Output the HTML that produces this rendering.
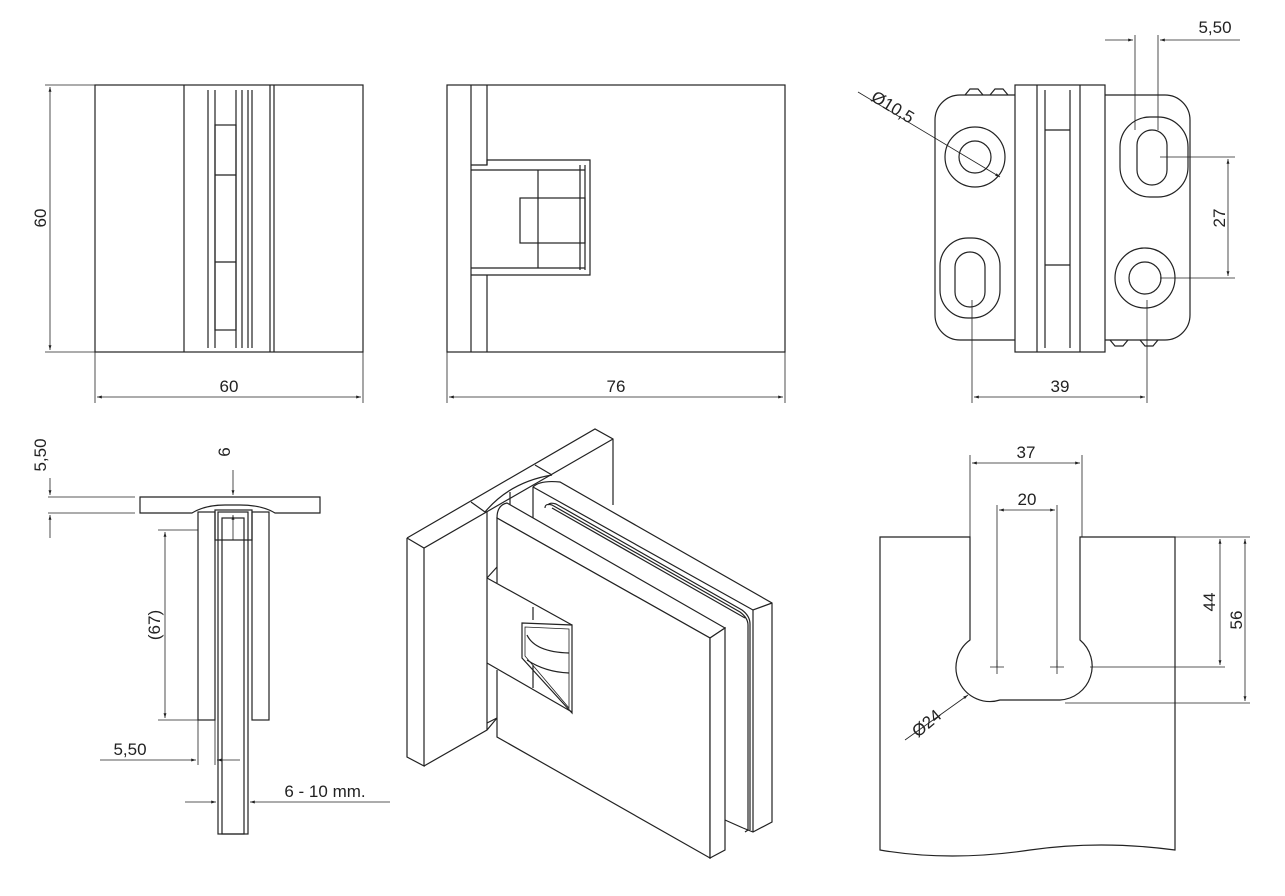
<!DOCTYPE html>
<html><head><meta charset="utf-8"><style>
html,body{margin:0;padding:0;background:#fff;}
svg{display:block;}
text{font-family:"Liberation Sans",sans-serif;font-size:17px;fill:#222;}
</style></head><body>
<svg width="1285" height="896" viewBox="0 0 1285 896" xmlns="http://www.w3.org/2000/svg">
<defs>
<marker id="a" viewBox="0 0 10 10" refX="10" refY="5" markerWidth="10" markerHeight="6" orient="auto-start-reverse"><path d="M0,2 L10,5 L0,8 z" fill="#222"/></marker>
</defs>
<g fill="none" stroke="#222" stroke-width="1.2">
<!-- TOP LEFT -->
<rect x="95" y="85" width="268" height="267"/>
<line x1="184" y1="85" x2="184" y2="352"/>
<line x1="208" y1="90" x2="208" y2="348"/>
<line x1="215" y1="90" x2="215" y2="348"/>
<line x1="236" y1="90" x2="236" y2="348"/>
<line x1="242" y1="90" x2="242" y2="348"/>
<line x1="248" y1="90" x2="248" y2="348"/>
<line x1="252" y1="90" x2="252" y2="348"/>
<line x1="270" y1="85" x2="270" y2="352"/>
<line x1="274" y1="85" x2="274" y2="352"/>
<rect x="215" y="125" width="21" height="205"/>
<line x1="215" y1="175" x2="236" y2="175"/><line x1="215" y1="262" x2="236" y2="262"/>
<line x1="45" y1="85" x2="95" y2="85" stroke-width="0.8"/>
<line x1="45" y1="352" x2="95" y2="352" stroke-width="0.8"/>
<line x1="50" y1="87" x2="50" y2="350" stroke-width="0.8" marker-start="url(#a)" marker-end="url(#a)"/>
<line x1="95" y1="352" x2="95" y2="403" stroke-width="0.8"/>
<line x1="363" y1="352" x2="363" y2="403" stroke-width="0.8"/>
<line x1="97" y1="397" x2="361" y2="397" stroke-width="0.8" marker-start="url(#a)" marker-end="url(#a)"/>
<!-- TOP MIDDLE -->
<rect x="447" y="85" width="338" height="267"/>
<line x1="471" y1="85" x2="471" y2="352"/>
<line x1="487" y1="85" x2="487" y2="165"/>
<line x1="487" y1="275" x2="487" y2="352"/>
<path d="M471,165 L487,165 L487,160 L590,160 L590,275 L487,275 L471,275"/>
<line x1="471" y1="170" x2="585" y2="170"/>
<line x1="471" y1="268" x2="585" y2="268"/>
<line x1="538" y1="170" x2="538" y2="268"/>
<line x1="580" y1="165" x2="580" y2="270"/>
<line x1="585" y1="165" x2="585" y2="270"/>
<rect x="520" y="198" width="65" height="45"/>
<line x1="447" y1="352" x2="447" y2="403" stroke-width="0.8"/>
<line x1="785" y1="352" x2="785" y2="403" stroke-width="0.8"/>
<line x1="449" y1="397" x2="783" y2="397" stroke-width="0.8" marker-start="url(#a)" marker-end="url(#a)"/>
<!-- TOP RIGHT -->
<rect x="935" y="95" width="255" height="245" rx="25"/>
<rect x="1015" y="85" width="90" height="267" fill="#fff"/>
<line x1="1037" y1="85" x2="1037" y2="352"/><line x1="1045" y1="90" x2="1045" y2="348"/>
<line x1="1070" y1="90" x2="1070" y2="348"/><line x1="1080" y1="85" x2="1080" y2="352"/>
<line x1="1045" y1="130" x2="1070" y2="130"/><line x1="1045" y1="265" x2="1070" y2="265"/>
<circle cx="975" cy="157" r="30"/><circle cx="975" cy="157" r="16"/>
<circle cx="1145" cy="278" r="30"/><circle cx="1145" cy="278" r="16"/>
<rect x="1120" y="117" width="68" height="80" rx="30"/><rect x="1137" y="130" width="30" height="55" rx="15"/>
<rect x="940" y="238" width="60" height="80" rx="28"/><rect x="955" y="252" width="30" height="55" rx="15"/>
<path d="M965,95 l5,-6 h8 l5,6 M990,95 l5,-6 h8 l5,6"/>
<path d="M1110,340 l5,6 h8 l5,-6 M1140,340 l5,6 h8 l5,-6"/>
<line x1="858" y1="92" x2="1000" y2="177" stroke-width="0.8" marker-end="url(#a)"/>
<line x1="1135" y1="35" x2="1135" y2="130" stroke-width="0.8"/>
<line x1="1158" y1="35" x2="1158" y2="130" stroke-width="0.8"/>
<line x1="1105" y1="40" x2="1133" y2="40" stroke-width="0.8" marker-end="url(#a)"/>
<line x1="1240" y1="40" x2="1160" y2="40" stroke-width="0.8" marker-end="url(#a)"/>
<line x1="1160" y1="157" x2="1235" y2="157" stroke-width="0.8"/>
<line x1="1160" y1="278" x2="1235" y2="278" stroke-width="0.8"/>
<line x1="1228" y1="159" x2="1228" y2="276" stroke-width="0.8" marker-start="url(#a)" marker-end="url(#a)"/>
<line x1="972" y1="300" x2="972" y2="403" stroke-width="0.8"/>
<line x1="1147" y1="300" x2="1147" y2="403" stroke-width="0.8"/>
<line x1="974" y1="397" x2="1145" y2="397" stroke-width="0.8" marker-start="url(#a)" marker-end="url(#a)"/>
<!-- BOTTOM LEFT -->
<path d="M140,497 H320 V513 H275 Q262,505 240,505 H225 Q205,505 192,513 H140 Z"/>
<rect x="198" y="512" width="17" height="208"/>
<rect x="252" y="512" width="17" height="208"/>
<rect x="215" y="510" width="37" height="30"/>
<rect x="218" y="512" width="30" height="322"/>
<rect x="222" y="518" width="22" height="316"/>
<line x1="48" y1="497" x2="135" y2="497" stroke-width="0.8"/>
<line x1="48" y1="513" x2="135" y2="513" stroke-width="0.8"/>
<line x1="50" y1="478" x2="50" y2="495" stroke-width="0.8" marker-end="url(#a)"/>
<line x1="50" y1="538" x2="50" y2="515" stroke-width="0.8" marker-end="url(#a)"/>
<line x1="233" y1="470" x2="233" y2="495" stroke-width="0.8" marker-end="url(#a)"/>
<line x1="233" y1="540" x2="233" y2="515" stroke-width="0.8" marker-end="url(#a)"/>
<line x1="158" y1="530" x2="198" y2="530" stroke-width="0.8"/>
<line x1="158" y1="720" x2="198" y2="720" stroke-width="0.8"/>
<line x1="165" y1="532" x2="165" y2="718" stroke-width="0.8" marker-start="url(#a)" marker-end="url(#a)"/>
<line x1="198" y1="720" x2="198" y2="765" stroke-width="0.8"/>
<line x1="215" y1="720" x2="215" y2="765" stroke-width="0.8"/>
<line x1="100" y1="760" x2="196" y2="760" stroke-width="0.8" marker-end="url(#a)"/>
<line x1="240" y1="760" x2="217" y2="760" stroke-width="0.8" marker-end="url(#a)"/>
<line x1="185" y1="802" x2="216" y2="802" stroke-width="0.8" marker-end="url(#a)"/>
<line x1="390" y1="802" x2="250" y2="802" stroke-width="0.8" marker-end="url(#a)"/>
<!-- ISOMETRIC -->
<path d="M407,538 L595,429 L613,439 L613,505"/>
<path d="M407,538 L424,548 L613,439"/>
<path d="M407,538 L407,757 L424,766 L424,548"/>
<path d="M424,766 L487,730 L497,718"/>
<line x1="471" y1="502" x2="485" y2="512"/>
<line x1="535" y1="465" x2="552" y2="475"/>
<path d="M485,512 Q510,482 552,475"/>
<line x1="487" y1="512" x2="487" y2="730"/>
<line x1="510" y1="492" x2="510" y2="510"/>
<path d="M533,518 L533,487 Q540,480 560,482 L772,603 L772,822 L753,832 L743,828"/>
<path d="M533,487 L753,610 L772,603"/>
<line x1="753" y1="610" x2="753" y2="832"/>
<path d="M545,508 Q545,503 552,505 L740,612 Q748,618 748,625 L748,830 L745,832"/>
<path d="M548,505 Q550,502 556,504 L742,610 Q750,616 750,624 L750,830"/>
<line x1="552" y1="508" x2="745" y2="618"/>
<!-- front plate -->
<path d="M497,518 Q497,505 507,503 L725,628 L710,638 L497,518 Z" fill="#fff"/>
<path d="M497,518 L710,638 L710,858 L497,737 Z" fill="#fff" stroke="none"/>
<path d="M497,583 L497,518 L710,638 L710,858 L497,737 L497,670"/>
<path d="M710,638 L725,628 L725,850 L710,858 Z" fill="#fff"/>
<line x1="725" y1="820" x2="743" y2="828"/>
<!-- hinge band -->
<path d="M487,578 L497,567"/>
<path d="M487,578 L572,625"/>
<path d="M487,663 L572,712"/>
<path d="M487,723 L497,718"/>
<path d="M522,623 L572,625 L572,713 L522,658 Z"/>
<path d="M525,627 L569,629 L569,708 L525,656 Z" stroke-width="0.8"/>
<path d="M527,635 Q535,652 569,653 M527,660 Q545,672 569,673"/>
<path d="M533,607 L533,620 M533,665 L533,688"/>
<!-- BOTTOM RIGHT -->
<path d="M880,537 H970 V640 A34,34 0 0 0 1000,700 H1060 A34,34 0 0 0 1080,640 V537 H1175 V850 Q1100,840 1030,850 Q950,862 880,850 Z"/>
<line x1="970" y1="537" x2="970" y2="455" stroke-width="0.8"/>
<line x1="1082" y1="537" x2="1082" y2="455" stroke-width="0.8"/>
<line x1="972" y1="463" x2="1080" y2="463" stroke-width="0.8" marker-start="url(#a)" marker-end="url(#a)"/>
<line x1="997" y1="667" x2="997" y2="505" stroke-width="0.8"/>
<line x1="1057" y1="667" x2="1057" y2="505" stroke-width="0.8"/>
<line x1="999" y1="510" x2="1055" y2="510" stroke-width="0.8" marker-start="url(#a)" marker-end="url(#a)"/>
<path d="M990,667 h14 M997,660 v14 M1050,667 h14 M1057,660 v14" stroke-width="0.8"/>
<line x1="1175" y1="537" x2="1250" y2="537" stroke-width="0.8"/>
<line x1="1090" y1="667" x2="1225" y2="667" stroke-width="0.8"/>
<line x1="1065" y1="703" x2="1250" y2="703" stroke-width="0.8"/>
<line x1="1220" y1="539" x2="1220" y2="665" stroke-width="0.8" marker-start="url(#a)" marker-end="url(#a)"/>
<line x1="1245" y1="539" x2="1245" y2="701" stroke-width="0.8" marker-start="url(#a)" marker-end="url(#a)"/>
<line x1="905" y1="740" x2="968" y2="695" stroke-width="0.8" marker-end="url(#a)"/>
</g>
<text x="229" y="392" text-anchor="middle">60</text>
<text x="46" y="218" text-anchor="middle" transform="rotate(-90 46 218)">60</text>
<text x="616" y="392" text-anchor="middle">76</text>
<text x="1060" y="392" text-anchor="middle">39</text>
<text x="1215" y="33" text-anchor="middle">5,50</text>
<text x="1225" y="218" text-anchor="middle" transform="rotate(-90 1225 218)">27</text>
<text x="870" y="100" transform="rotate(31 870 100)">Ø10,5</text>
<text x="46" y="455" text-anchor="middle" transform="rotate(-90 46 455)">5,50</text>
<text x="230" y="452" text-anchor="middle" transform="rotate(-90 230 452)">6</text>
<text x="160" y="625" text-anchor="middle" transform="rotate(-90 160 625)">(67)</text>
<text x="130" y="755" text-anchor="middle">5,50</text>
<text x="325" y="797" text-anchor="middle">6 - 10 mm.</text>
<text x="1026" y="458" text-anchor="middle">37</text>
<text x="1027" y="505" text-anchor="middle">20</text>
<text x="1215" y="602" text-anchor="middle" transform="rotate(-90 1215 602)">44</text>
<text x="1242" y="620" text-anchor="middle" transform="rotate(-90 1242 620)">56</text>
<text x="918" y="738" transform="rotate(-40 918 738)">Ø24</text>
</svg>
</body></html>
